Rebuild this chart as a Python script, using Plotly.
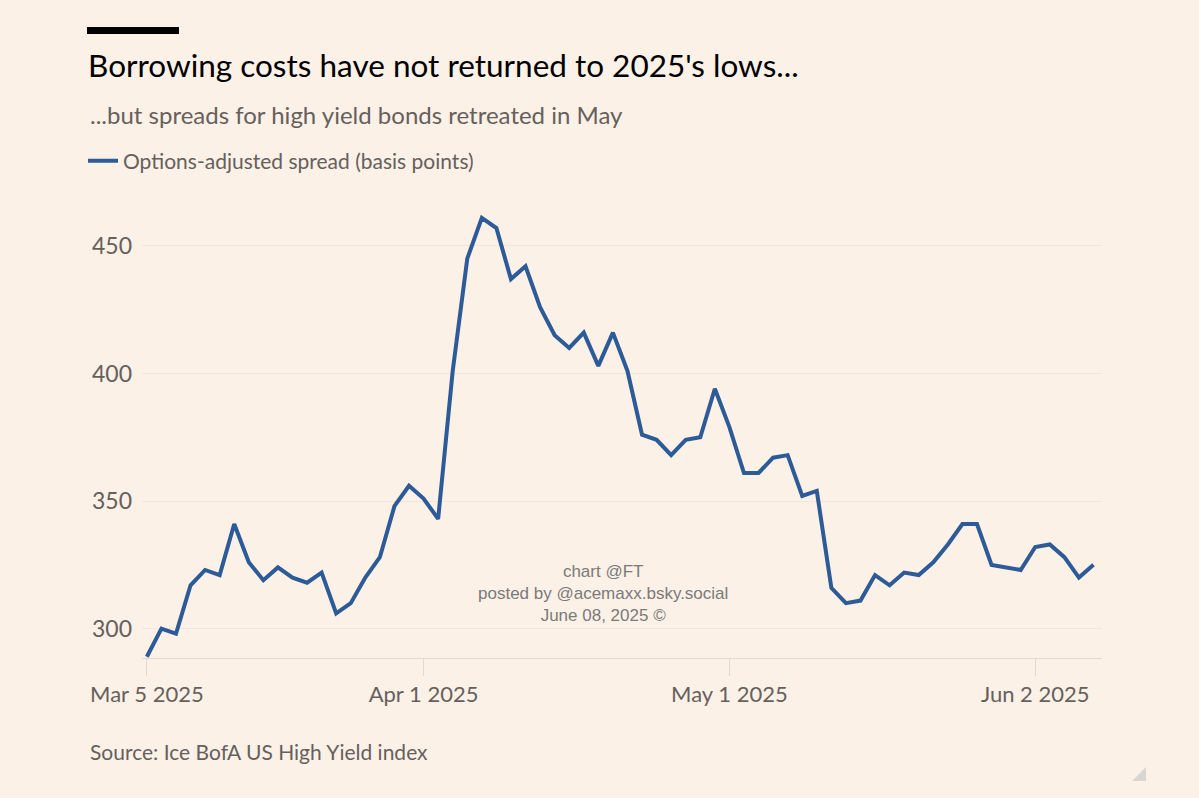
import pandas as pd
import plotly.graph_objects as go

# trading days, Good Friday and Memorial Day have no value
holidays = ["2025-04-18", "2025-05-26"]
dates = pd.bdate_range("2025-03-05", "2025-06-06", freq="C", holidays=holidays)

# options-adjusted spread (basis points)
spread = [
    289, 300, 298, 317, 323, 321, 341, 326, 319, 324,
    320, 318, 322, 306, 310, 320, 328, 348, 356, 351,
    343, 401, 445, 461, 457, 437, 442, 426, 415, 410,
    416, 403, 416, 401, 376, 374, 368, 374, 375, 394,
    379, 361, 361, 367, 368, 352, 354, 316, 310, 311,
    321, 317, 322, 321, 326, 333, 341, 341, 325, 324,
    323, 332, 333, 328, 320, 325,
]

tick_dates = ["2025-03-05", "2025-04-01", "2025-05-01", "2025-06-02"]
tick_labels = ["Mar 5 2025", "Apr 1 2025", "May 1 2025", "Jun 2 2025"]
y_ticks = [300, 350, 400, 450]

watermark = ["chart @FT", "posted by @acemaxx.bsky.social", "June 08, 2025 ©"]

# colours
bg = "#fcf1e7"
blue = "#2c5b98"
grey_text = "#66605c"
grid = "#f2e5d9"
axis_line = "#e3d9cf"

FONT = "Lato"

# plot area in pixels (for the paper coordinate helpers)
W, H = 1199, 798
L, R, T, B = 142, 97, 214, 140
PW, PH = W - L - R, H - T - B


def px(x):
    return (x - L) / PW


def py(y):
    return (H - B - y) / PH


fig = go.Figure()

fig.add_trace(go.Scatter(
    x=dates,
    y=spread,
    mode="lines",
    name="Options-adjusted spread (basis points)",
    line=dict(color=blue, width=4),
))

fig.update_layout(
    width=W,
    height=H,
    margin=dict(l=L, r=R, t=T, b=B),
    paper_bgcolor=bg,
    plot_bgcolor=bg,
    font=dict(family=FONT, color=grey_text, size=22),
    title=dict(
        text="Borrowing costs have not returned to 2025's lows...",
        font=dict(family=FONT, size=31.5, color="#000000"),
        xref="container", yref="container",
        x=88 / W, xanchor="left",
        y=1 - 66 / H, yanchor="middle",
    ),
    showlegend=True,
    legend=dict(
        orientation="h",
        x=px(83), xanchor="left",
        y=py(161), yanchor="middle",
        bgcolor="rgba(0,0,0,0)",
        font=dict(size=21, color=grey_text),
    ),
    xaxis=dict(
        type="date",
        rangebreaks=[dict(bounds=["sat", "mon"]), dict(values=holidays)],
        range=["2025-03-04 16:00", "2025-06-06 14:00"],
        tickvals=tick_dates,
        ticktext=tick_labels,
        ticks="outside",
        ticklen=17,
        tickcolor=axis_line,
        tickwidth=1,
        showgrid=False,
        showline=True,
        linecolor=axis_line,
        linewidth=1,
        zeroline=False,
        tickfont=dict(size=22, color=grey_text),
    ),
    yaxis=dict(
        range=[288.5, 462.5],
        tickvals=y_ticks,
        showgrid=True,
        gridcolor=grid,
        gridwidth=1,
        zeroline=False,
        ticks="",
        ticklabelstandoff=9,
        tickfont=dict(size=23, color=grey_text),
    ),
    annotations=[
        dict(
            text="...but spreads for high yield bonds retreated in May",
            xref="paper", yref="paper", x=px(88), y=py(115),
            xanchor="left", yanchor="middle", showarrow=False,
            font=dict(family=FONT, size=24, color=grey_text),
        ),
        dict(
            text="Source: Ice BofA US High Yield index",
            xref="paper", yref="paper", x=px(88), y=py(751),
            xanchor="left", yanchor="middle", showarrow=False,
            font=dict(family=FONT, size=21, color=grey_text),
        ),
        # watermark
        dict(
            text="<br>".join(watermark),
            xref="paper", yref="paper", x=px(603), y=py(593),
            xanchor="center", yanchor="middle", showarrow=False,
            font=dict(family="Liberation Sans", size=17, color="#7a7a7a"),
        ),
    ],
    shapes=[
        # black bar above the title
        dict(type="rect", xref="paper", yref="paper",
             x0=px(87), x1=px(179), y0=py(34), y1=py(27),
             fillcolor="#000000", line=dict(width=0)),
        # resize handle in the corner
        dict(type="path", xref="paper", yref="paper",
             path=f"M {px(1132)},{py(781)} L {px(1146)},{py(781)} L {px(1146)},{py(767)} Z",
             fillcolor="#d9d5d1", line=dict(width=0)),
    ],
)

# drop the browser's default page margin so the figure fills the window
fig.write_html(
    "out.html",
    config={"displayModeBar": False},
    post_script="document.body.style.margin='0';",
)
